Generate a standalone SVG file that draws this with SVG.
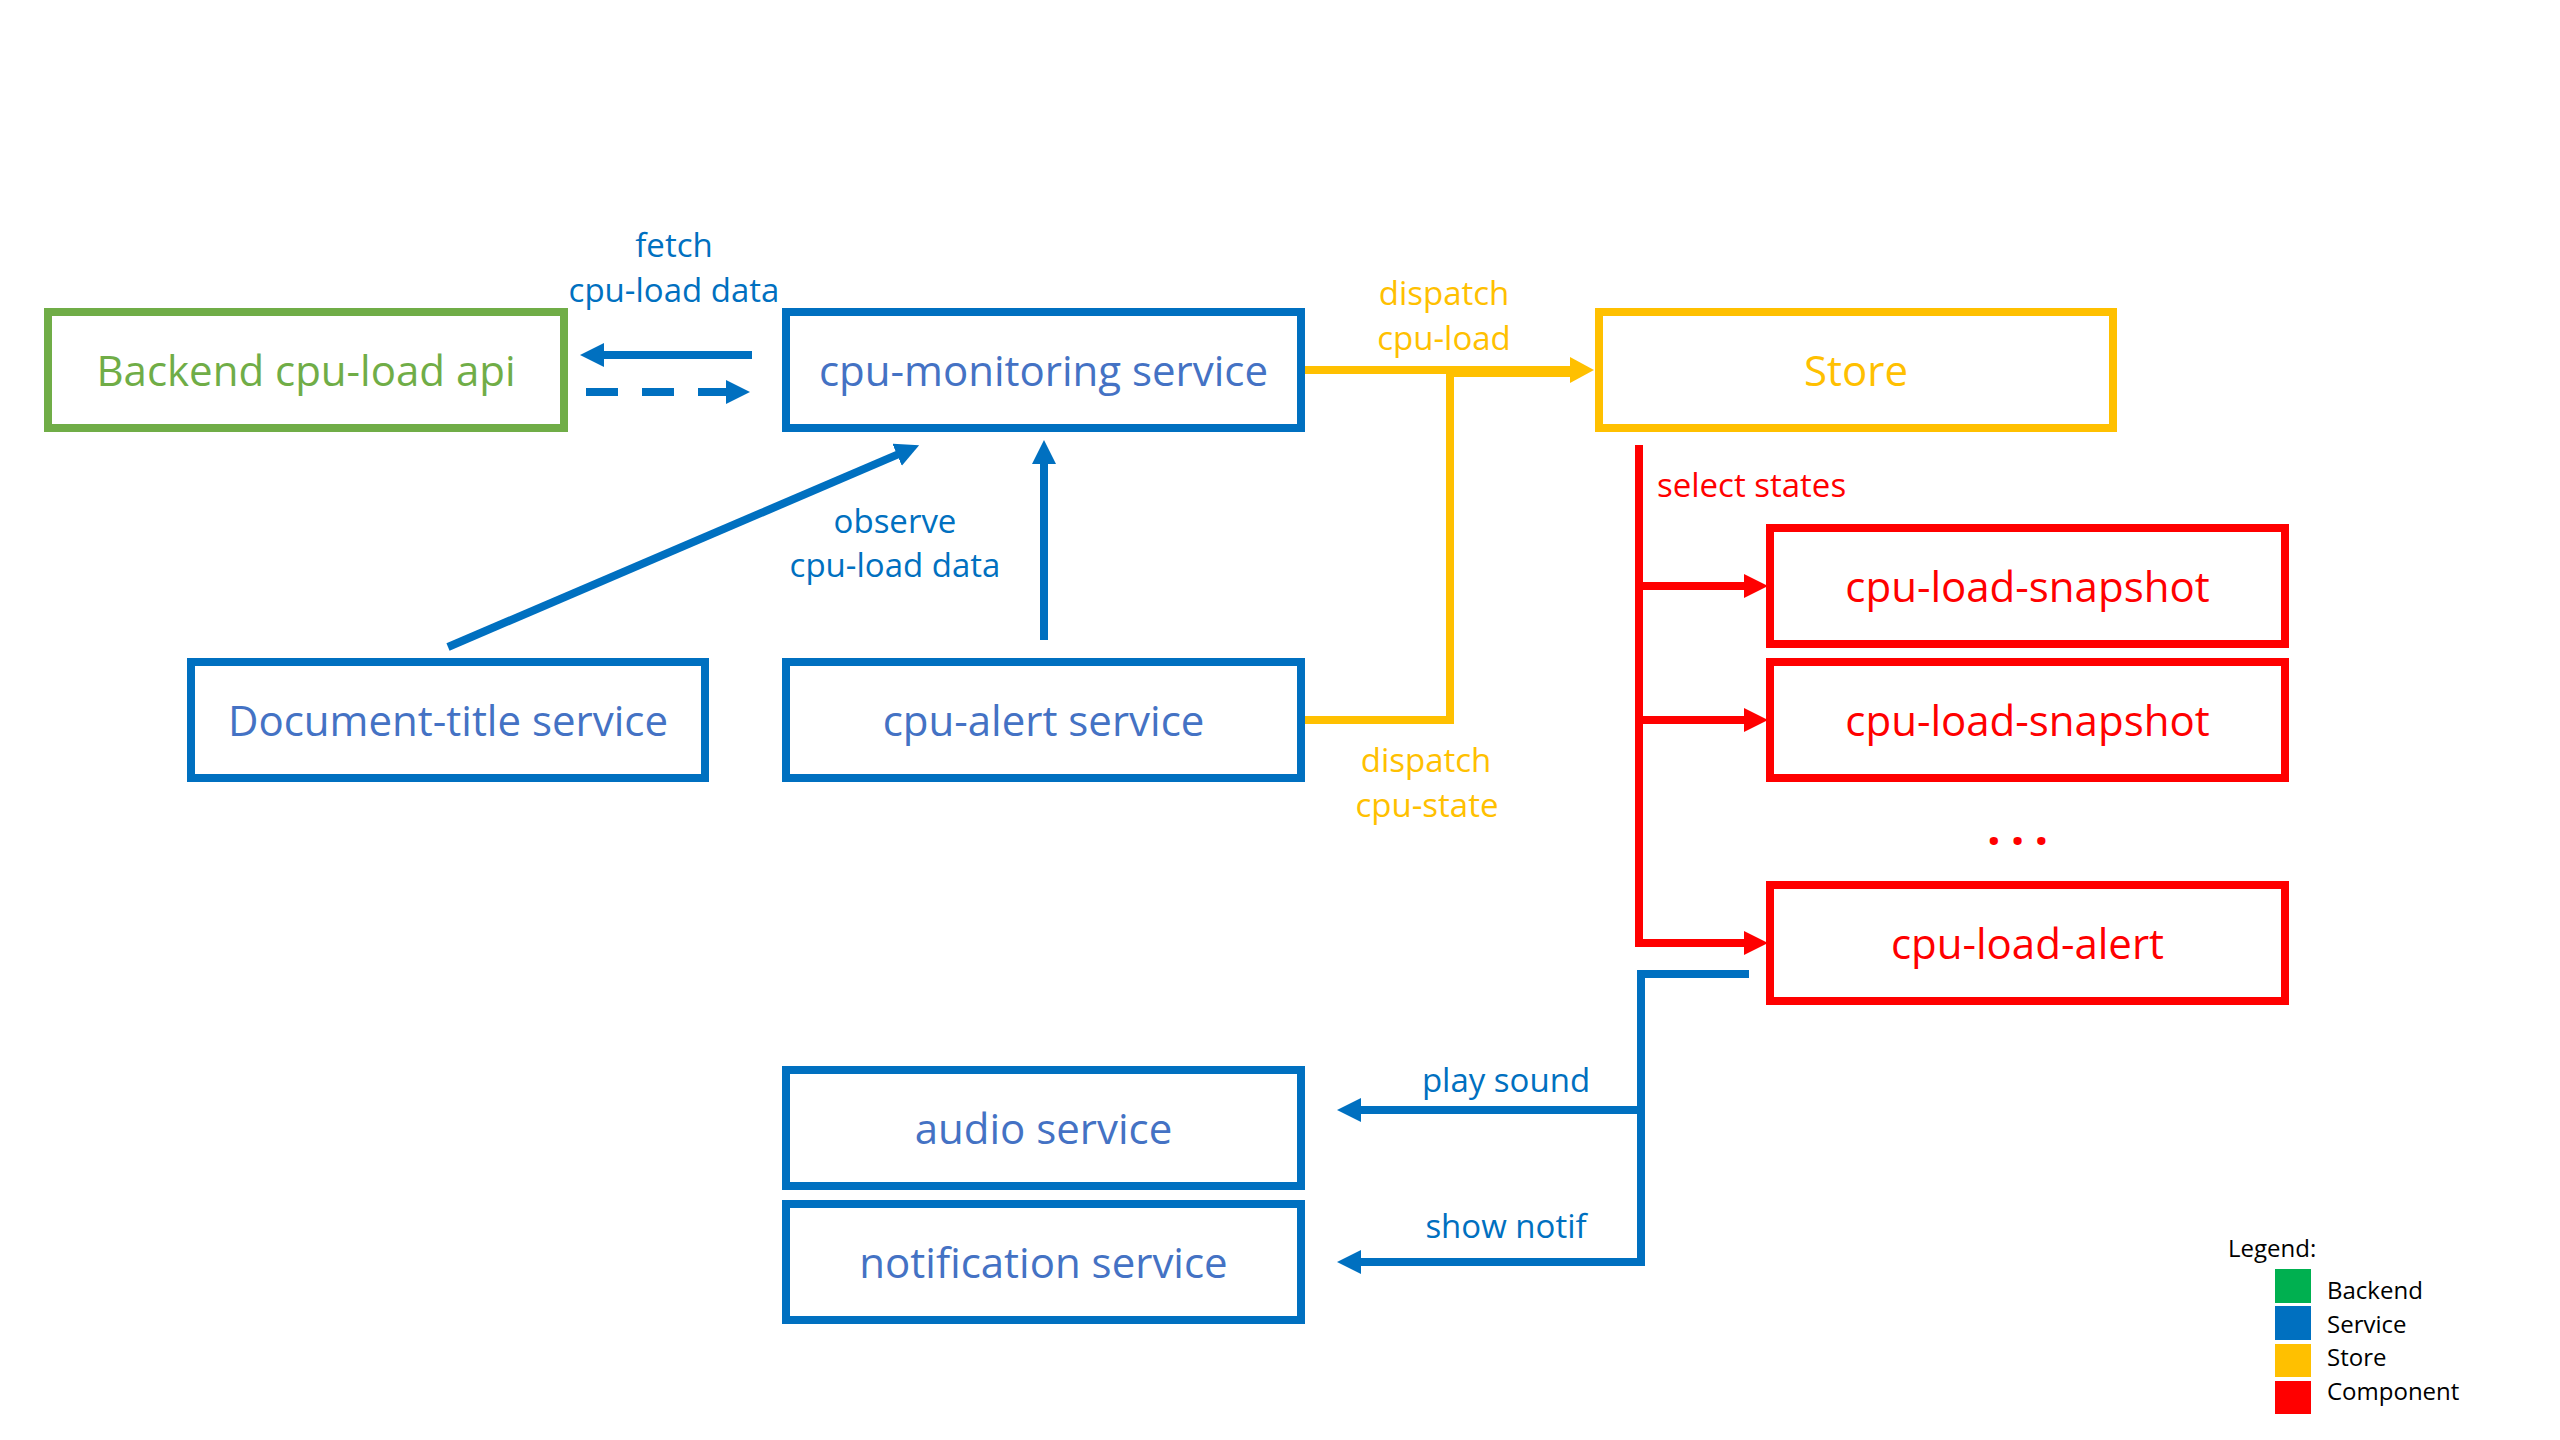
<svg xmlns="http://www.w3.org/2000/svg" width="2560" height="1440" viewBox="0 0 2560 1440">
  <style>
    .box { fill: #FFFFFF; stroke-width: 8; }
    .t { font-family: "Open Sans", "Noto Sans", "DejaVu Sans", sans-serif; }
    .main { font-size: 42px; text-anchor: middle; }
    .lbl { font-size: 33px; text-anchor: middle; }
    .leg { font-size: 24px; fill: #000000; }
    .blue-s { stroke: #0070C0; }
    .green-s { stroke: #70AD47; }
    .yellow-s { stroke: #FFC000; }
    .red-s { stroke: #FF0000; }
    .conn { fill: none; stroke-width: 8; stroke-linejoin: miter; }
  </style>
  <defs>
    <marker id="ah-blue" markerUnits="userSpaceOnUse" markerWidth="24" markerHeight="24" refX="1" refY="12" orient="auto">
      <path d="M0,0 L24,12 L0,24 z" fill="#0070C0"/>
    </marker>
    <marker id="ah-yellow" markerUnits="userSpaceOnUse" markerWidth="24" markerHeight="26" refX="1" refY="13" orient="auto">
      <path d="M0,0 L24,13 L0,26 z" fill="#FFC000"/>
    </marker>
    <marker id="ah-red" markerUnits="userSpaceOnUse" markerWidth="24" markerHeight="24" refX="1" refY="12" orient="auto">
      <path d="M0,0 L24,12 L0,24 z" fill="#FF0000"/>
    </marker>
  </defs>
  <rect x="0" y="0" width="2560" height="1440" fill="#FFFFFF"/>

  <g id="connectors">
    <!-- fetch / response -->
    <path class="conn blue-s" d="M752,355 H603" marker-end="url(#ah-blue)"/>
    <path class="conn blue-s" d="M586,392 H727" stroke-dasharray="32 24" marker-end="url(#ah-blue)"/>
    <!-- observe -->
    <path class="conn blue-s" d="M448,647 L898,454.4" marker-end="url(#ah-blue)"/>
    <path class="conn blue-s" d="M1044,640 V463" stroke-width="6" marker-end="url(#ah-blue)"/>
    <!-- dispatch -->
    <path class="conn yellow-s" d="M1301,720 H1450 V373 H1575"/>
    <path class="conn yellow-s" d="M1301,370 H1571" marker-end="url(#ah-yellow)"/>
    <!-- select states -->
    <path class="conn red-s" d="M1639,445 V943 H1745" marker-end="url(#ah-red)"/>
    <path class="conn red-s" d="M1639,586 H1745" marker-end="url(#ah-red)"/>
    <path class="conn red-s" d="M1639,720 H1745" marker-end="url(#ah-red)"/>
    <!-- alert outputs -->
    <path class="conn blue-s" d="M1749,974 H1641 V1262 H1360" marker-end="url(#ah-blue)"/>
    <path class="conn blue-s" d="M1641,1110 H1360" marker-end="url(#ah-blue)"/>

    <g class="t lbl" fill="#0070C0">
      <text x="674" y="257">fetch</text>
      <text x="674" y="302">cpu-load data</text>
      <text x="895" y="533">observe</text>
      <text x="895" y="577">cpu-load data</text>
      <text x="1506" y="1092">play sound</text>
      <text x="1506" y="1238">show notif</text>
    </g>
    <g class="t lbl" fill="#FFC000">
      <text x="1444" y="305">dispatch</text>
      <text x="1444" y="350">cpu-load</text>
      <text x="1426" y="772">dispatch</text>
      <text x="1427" y="817">cpu-state</text>
    </g>
    <text class="t" x="1657" y="497" font-size="33" fill="#FF0000">select states</text>
  </g>

  <g id="backend-api">
    <rect class="box green-s" x="48" y="312" width="516" height="116"/>
    <text class="t main" x="306" y="386" fill="#70AD47">Backend cpu-load api</text>
  </g>
  <g id="cpu-monitoring-service">
    <rect class="box blue-s" x="786" y="312" width="515" height="116"/>
    <text class="t main" x="1043.5" y="386" fill="#4472C4">cpu-monitoring service</text>
  </g>
  <g id="store">
    <rect class="box yellow-s" x="1599" y="312" width="514" height="116"/>
    <text class="t main" x="1856" y="386" fill="#FFC000">Store</text>
  </g>
  <g id="document-title-service">
    <rect class="box blue-s" x="191" y="662" width="514" height="116"/>
    <text class="t main" x="448" y="736" fill="#4472C4">Document-title service</text>
  </g>
  <g id="cpu-alert-service">
    <rect class="box blue-s" x="786" y="662" width="515" height="116"/>
    <text class="t main" x="1043.5" y="736" fill="#4472C4">cpu-alert service</text>
  </g>
  <g id="cpu-load-snapshot-1">
    <rect class="box red-s" x="1770" y="528" width="515" height="116"/>
    <text class="t main" x="2027.5" y="602" fill="#FF0000">cpu-load-snapshot</text>
  </g>
  <g id="cpu-load-snapshot-2">
    <rect class="box red-s" x="1770" y="662" width="515" height="116"/>
    <text class="t main" x="2027.5" y="736" fill="#FF0000">cpu-load-snapshot</text>
  </g>
  <g id="ellipsis">
    <text class="t" x="1987" y="845" font-size="48" font-weight="bold" letter-spacing="10" fill="#FF0000">...</text>
  </g>
  <g id="cpu-load-alert">
    <rect class="box red-s" x="1770" y="885" width="515" height="116"/>
    <text class="t main" x="2027.5" y="959" fill="#FF0000">cpu-load-alert</text>
  </g>
  <g id="audio-service">
    <rect class="box blue-s" x="786" y="1070" width="515" height="116"/>
    <text class="t main" x="1043.5" y="1144" fill="#4472C4">audio service</text>
  </g>
  <g id="notification-service">
    <rect class="box blue-s" x="786" y="1204" width="515" height="116"/>
    <text class="t main" x="1043.5" y="1278" fill="#4472C4">notification service</text>
  </g>

  <g id="legend">
    <text class="t leg" x="2228" y="1257">Legend:</text>
    <rect x="2275" y="1269" width="36" height="34" fill="#00B050"/>
    <rect x="2275" y="1306" width="36" height="34" fill="#0070C0"/>
    <rect x="2275" y="1344" width="36" height="33" fill="#FFC000"/>
    <rect x="2275" y="1381" width="36" height="33" fill="#FF0000"/>
    <text class="t leg" x="2327" y="1299">Backend</text>
    <text class="t leg" x="2327" y="1333">Service</text>
    <text class="t leg" x="2327" y="1366">Store</text>
    <text class="t leg" x="2327" y="1400">Component</text>
  </g>
</svg>
